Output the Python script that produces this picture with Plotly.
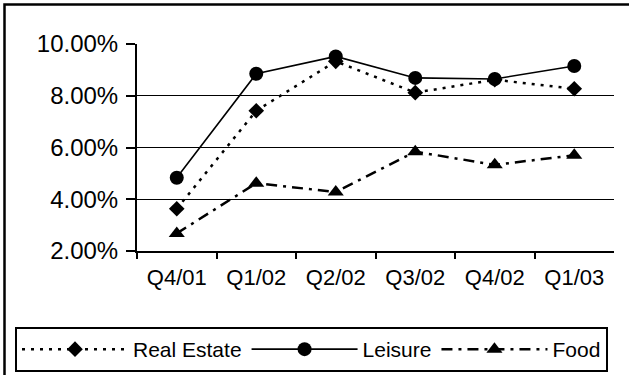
import plotly.graph_objects as go

quarters = ["Q4/01", "Q1/02", "Q2/02", "Q3/02", "Q4/02", "Q1/03"]
real_estate = [3.63, 7.42, 9.33, 8.12, 8.62, 8.27]
leisure = [4.83, 8.85, 9.52, 8.69, 8.65, 9.15]
food = [2.68, 4.62, 4.28, 5.84, 5.33, 5.70]

y_ticks = [2, 4, 6, 8, 10]
y_tick_labels = ["2.00%", "4.00%", "6.00%", "8.00%", "10.00%"]

W, H = 629, 375
FONT = "Liberation Sans, Arial, sans-serif"

fig = go.Figure()
fig.add_trace(go.Scatter(
    x=quarters, y=real_estate, name="Real Estate", mode="lines+markers",
    line=dict(color="black", width=2.5, dash="3px,6px"),
    marker=dict(symbol="diamond", size=12, color="black"),
))
fig.add_trace(go.Scatter(
    x=quarters, y=leisure, name="Leisure", mode="lines+markers",
    line=dict(color="black", width=1.6),
    marker=dict(symbol="circle", size=14, color="black"),
))
fig.add_trace(go.Scatter(
    x=quarters, y=food, name="Food", mode="lines+markers",
    line=dict(color="black", width=2.5, dash="11px,6px,3px,6px"),
    marker=dict(symbol="triangle-up", size=14, color="black"),
))

# plot area in pixels
L, R, T, B = 137, 614, 44, 251

fig.update_layout(
    width=W, height=H,
    margin=dict(l=0, r=0, t=0, b=0, autoexpand=False),
    paper_bgcolor="white", plot_bgcolor="white",
    font=dict(family=FONT, size=21, color="black"),
    xaxis=dict(
        domain=[L / W, R / W],
        type="category", tickson="boundaries",
        showline=True, linecolor="black", linewidth=2,
        ticks="outside", ticklen=6, tickwidth=2, tickcolor="black",
        showgrid=False, zeroline=False,
        ticklabelstandoff=6,
        tickfont=dict(size=22),
        range=[-0.5, 5.5],
    ),
    yaxis=dict(
        domain=[1 - B / H, 1 - T / H],
        range=[2, 10],
        tickvals=y_ticks, ticktext=y_tick_labels,
        showline=True, linecolor="black", linewidth=2,
        ticks="outside", ticklen=9, tickwidth=2, tickcolor="black",
        showgrid=True, gridcolor="black", gridwidth=1,
        zeroline=False,
        ticklabelstandoff=3,
        tickfont=dict(size=24),
    ),
    legend=dict(
        orientation="h",
        x=15 / W, xanchor="left",
        y=1 - 327 / H, yanchor="top",
        yref="paper", xref="paper",
        bordercolor="black", borderwidth=2,
        font=dict(size=21),
        itemwidth=106,
    ),
    shapes=[
        dict(type="rect", xref="paper", yref="paper",
             x0=4.5 / W, x1=1.05, y0=-0.05, y1=1 - 4.5 / H,
             line=dict(color="black", width=2.5), fillcolor="rgba(0,0,0,0)",
             layer="below"),
    ],
)

fig.write_html("out.html")
